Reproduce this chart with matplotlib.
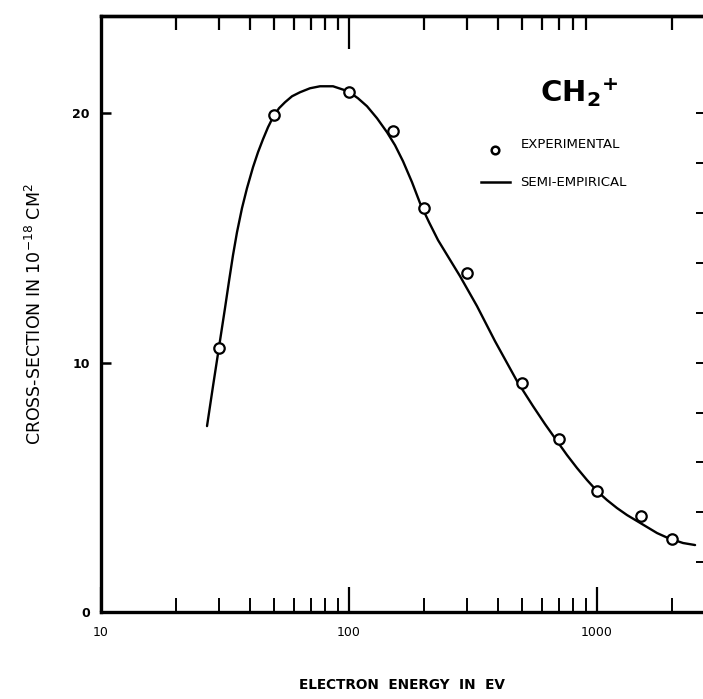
import matplotlib
matplotlib.use("Agg")
import matplotlib.pyplot as plt
from matplotlib.ticker import FixedLocator, NullFormatter

# Experimental points (electron energy eV, cross-section 1e-18 cm^2)
exp_energy = [30, 50, 100, 150, 200, 300, 500, 700, 1000, 1500, 2000]
exp_sigma = [10.6, 19.95, 20.85, 19.3, 16.2, 13.6, 9.2, 6.95, 4.85, 3.85, 2.93]

# Semi-empirical curve
curve_energy = [26.76, 28.29, 29.91, 31.62, 32.82, 34.06, 35.35, 37.02, 38.78,
                41.01, 42.96, 45.0, 47.14, 49.37, 52.2, 55.19, 58.91, 63.45,
                69.6, 76.4, 86.2, 99.1, 108.7, 118.2, 129.7, 142.3, 153.3,
                165.1, 179.5, 193.4, 210.2, 228.6, 253.1, 280.3, 328.2, 387.8,
                475.8, 551.9, 617.0, 689.8, 756.8, 830.7, 911.5, 1000, 1097,
                1204, 1321, 1450, 1591, 1746, 1934, 2223, 2485]
curve_sigma = [7.455, 9.058, 10.621, 12.184, 13.267, 14.309, 15.23, 16.192,
               16.994, 17.836, 18.437, 18.958, 19.439, 19.84, 20.2, 20.441,
               20.681, 20.842, 21.002, 21.082, 21.082, 20.882, 20.601, 20.281,
               19.8, 19.238, 18.717, 18.076, 17.234, 16.393, 15.631, 14.91,
               14.188, 13.467, 12.265, 10.862, 9.259, 8.257, 7.535, 6.854,
               6.293, 5.772, 5.291, 4.85, 4.489, 4.168, 3.888, 3.647, 3.407,
               3.166, 2.966, 2.766, 2.685]

x_major = [10, 100, 1000]
x_major_labels = ["10", "100", "1000"]
x_minor = [20, 30, 40, 50, 60, 70, 80, 90, 200, 300, 400, 500, 600, 700, 800, 900, 2000]
top_major = [100]
top_minor = [20, 30, 40, 50, 60, 70, 80, 90, 200, 300, 400, 500, 600, 700, 800, 900, 2000]
y_left = [0, 10, 20]
y_left_labels = ["0", "10", "20"]
y_right = [2, 4, 6, 8, 10, 12, 14, 16, 18, 20]

fig = plt.figure(figsize=(7.03, 6.99), dpi=100)
ax = fig.add_axes([101/703, 1-612/699, 1-101/703, (612-16)/699])

ax.set_xscale("log")
ax.set_xlim(10, 2675)
ax.set_ylim(0, 23.9)

ax.plot(curve_energy, curve_sigma, color="black", lw=1.7,
        solid_joinstyle="round", solid_capstyle="round")
ax.plot(exp_energy, exp_sigma, linestyle="none", marker="o", ms=7.5,
        mfc="white", mec="black", mew=1.6, zorder=3)

for s in ["left", "bottom", "top"]:
    ax.spines[s].set_linewidth(2.4)
ax.spines["right"].set_visible(False)

ax.xaxis.set_major_locator(FixedLocator(x_major))
ax.xaxis.set_minor_locator(FixedLocator(x_minor))
ax.set_xticklabels(x_major_labels)
ax.xaxis.set_minor_formatter(NullFormatter())
ax.tick_params(axis="x", which="major", direction="in", length=18, width=1.6,
               top=False, bottom=True, pad=10, labelsize=9)
ax.tick_params(axis="x", which="minor", direction="in", length=10, width=1.4,
               top=False, bottom=True)

top = ax.secondary_xaxis("top")
top.xaxis.set_major_locator(FixedLocator(top_major))
top.xaxis.set_minor_locator(FixedLocator(top_minor))
top.xaxis.set_major_formatter(NullFormatter())
top.xaxis.set_minor_formatter(NullFormatter())
top.tick_params(which="major", direction="in", length=24, width=1.6)
top.tick_params(which="minor", direction="in", length=10, width=1.6)
top.spines["top"].set_linewidth(2.4)

ax.set_yticks(y_left)
ax.set_yticklabels(y_left_labels, fontweight="bold")
ax.tick_params(axis="y", which="major", direction="in", length=7, width=1.8,
               left=True, right=False, pad=8, labelsize=9)
axr = ax.twinx()
axr.set_ylim(ax.get_ylim())
axr.set_yticks(y_right)
axr.set_yticklabels([])
axr.tick_params(axis="y", direction="in", length=5, width=1.4)
for s in axr.spines.values():
    s.set_visible(False)

ax.set_xlabel("ELECTRON  ENERGY  IN  EV", fontsize=9.8, fontweight="bold", labelpad=28)
ax.set_ylabel("CROSS-SECTION IN 10$^{-18}$ CM$^{2}$", fontsize=12.5, labelpad=20)

ax.text(0.73, 0.855, "CH$_\\mathbf{2}$$^\\mathbf{+}$", transform=ax.transAxes,
        fontsize=21, fontweight="bold", ha="left", va="baseline",
        family=["Liberation Sans Narrow", "DejaVu Sans"])

# legend
ax.plot([0.655], [0.776], transform=ax.transAxes, marker="o", ms=5.5,
        mfc="white", mec="black", mew=1.8, linestyle="none")
ax.text(0.697, 0.784, "EXPERIMENTAL", transform=ax.transAxes, fontsize=9.5,
        ha="left", va="center")
ax.plot([0.631, 0.679], [0.721, 0.721], transform=ax.transAxes, color="black", lw=1.8)
ax.text(0.697, 0.721, "SEMI-EMPIRICAL", transform=ax.transAxes, fontsize=9.5,
        ha="left", va="center")

fig.savefig("out.png", dpi=100)
